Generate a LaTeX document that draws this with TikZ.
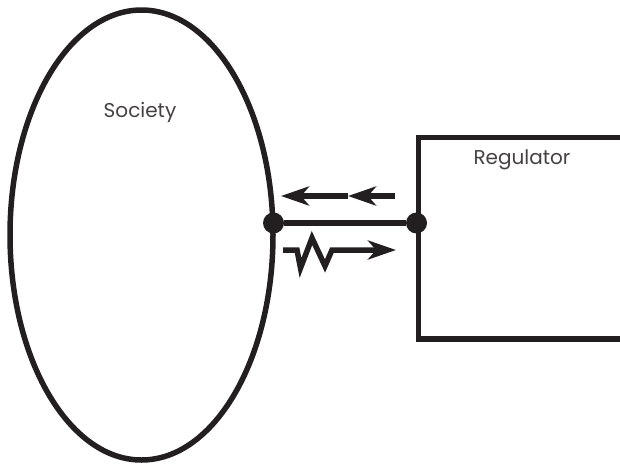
\documentclass[tikz,border=0pt]{standalone}
\usepackage{fontspec}
\setmainfont{Poppins}
\usetikzlibrary{shapes.geometric,arrows.meta}
\definecolor{ink}{HTML}{231F20}
\begin{document}
\begin{tikzpicture}[x=1pt,y=1pt,
  thick line/.style={draw=ink,line width=5.5pt},
  dot/.style={circle,fill=ink,inner sep=0pt,minimum size=21pt},
  arr/.style={thick line,-{Stealth[length=28pt,width=19pt,inset=8pt]}},
  lbl/.style={text=ink!85,font=\fontsize{20}{24}\selectfont,inner sep=0pt,anchor=base}]
\useasboundingbox (0,0) rectangle (620,-466);
\clip (0,0) rectangle (620,-466);
\node[ellipse,thick line,minimum width=263pt,minimum height=450pt,inner sep=0pt] (society) at (141.5,-235) {};
\node[thick line,rectangle,minimum width=290pt,minimum height=201.5pt,anchor=north west,inner sep=0pt] (reg) at (415.5,-134.5) {};
\node[lbl] (tsoc) at (140,-117) {Society};
\node[lbl] (treg) at (522,-164) {Regulator};
\node[dot] (d1) at (273.5,-223) {};
\node[dot] (d2) at (416.5,-223) {};
\draw[thick line] (d1) -- (d2);
\coordinate (a1s) at (395,-196);
\coordinate (a1m) at (348,-196);
\coordinate (a1e) at (281,-196);
\draw[arr] (a1s) -- (a1m);
\draw[arr] (a1m) -- (a1e);
\coordinate (z0) at (283,-250);
\coordinate (z1) at (396,-250);
\draw[arr,line join=miter,line cap=butt] (z0) -- (297,-250) -- (300.5,-268) -- (312,-238) -- (325,-266) -- (332,-250) -- (z1);
\end{tikzpicture}
\end{document}
